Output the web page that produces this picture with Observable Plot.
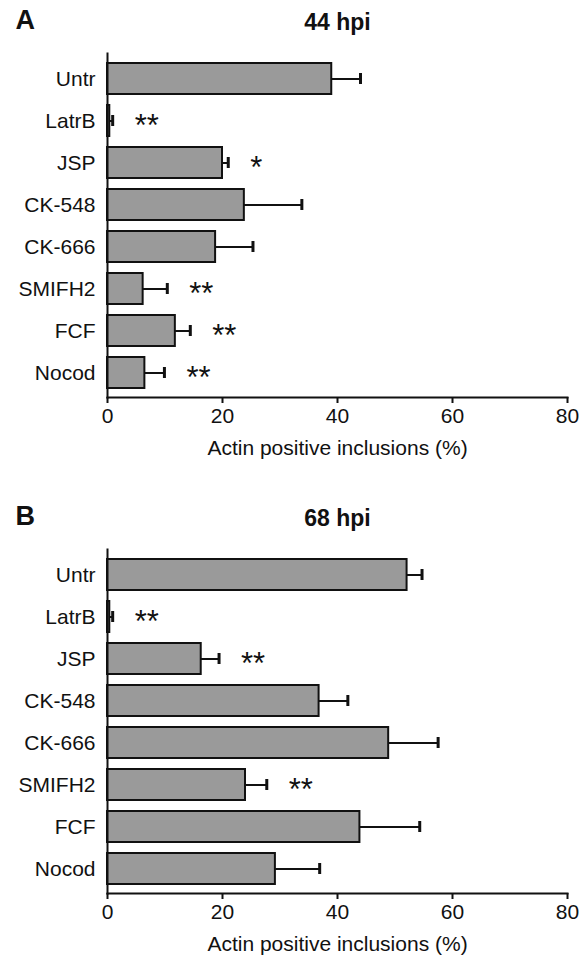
<!DOCTYPE html>
<html>
<head>
<meta charset="utf-8">
<script src="https://cdn.jsdelivr.net/npm/d3@7"></script>
<script src="https://cdn.jsdelivr.net/npm/@observablehq/plot@0.6"></script>
<style>
  html, body { margin: 0; padding: 0; background: #fff; }
  #root { width: 582px; height: 959px; overflow: hidden; }
  #root svg { display: block; font-family: "Liberation Sans", Arial, sans-serif; }
</style>
</head>
<body>
<div id="root"></div>
<script>
// ---- data ----
const groups = ["Untr", "LatrB", "JSP", "CK-548", "CK-666", "SMIFH2", "FCF", "Nocod"];
const mean44 = [39.0, 0.4, 20.0, 23.8, 18.8, 6.2, 11.8, 6.5];
const sd44   = [5.0, 0.5, 1.0, 10.0, 6.5, 4.2, 2.6, 3.4];
const sig44  = ["", "**", "*", "", "", "**", "**", "**"];
const mean68 = [52.1, 0.4, 16.3, 36.8, 48.9, 24.0, 43.9, 29.2];
const sd68   = [2.6, 0.5, 3.1, 5.0, 8.6, 3.7, 10.4, 7.7];
const sig68  = ["", "**", "**", "", "", "**", "", ""];
const xTicks = [0, 20, 40, 60, 80];
const xLabel = "Actin positive inclusions (%)";

function table(means, sds, sigs) {
  return groups.map((g, i) => ({name: g, value: means[i], hi: means[i] + sds[i], sig: sigs[i]}));
}

function panel(letter, title, rows, h) {
  const ink = "#111";
  return Plot.plot({
    width: 582,
    height: h,
    marginLeft: 107,
    marginRight: 15,
    marginTop: 53,
    marginBottom: h - 397,
    style: {fontFamily: "Liberation Sans, Arial, sans-serif", color: ink, background: "#fff"},
    x: {domain: [0, 80], ticks: xTicks},
    y: {domain: groups, paddingInner: 0.27, paddingOuter: 0.15},
    marks: [
      Plot.barX(rows, {x: "value", y: "name", fill: "#9a9a9a", stroke: ink, strokeWidth: 2}),
      Plot.ruleY(rows, {x1: "value", x2: "hi", y: "name", stroke: ink, strokeWidth: 2}),
      Plot.tickX(rows, {x: "hi", y: "name", stroke: ink, strokeWidth: 3, insetTop: 10, insetBottom: 10}),
      Plot.text(rows.filter(d => d.sig), {x: "hi", y: "name", text: "sig", textAnchor: "start", dx: 22, dy: 5, fontSize: 31, fill: ink}),
      Plot.frame({anchor: "left", stroke: ink, strokeWidth: 2}),
      Plot.frame({anchor: "bottom", stroke: ink, strokeWidth: 2}),
      Plot.axisY({tickSize: 0, tickPadding: 12, fontSize: 21, label: null}),
      Plot.axisX({ticks: xTicks, tickSize: 6, tickPadding: 5, fontSize: 21, label: null, strokeWidth: 2}),
      Plot.text([xLabel], {frameAnchor: "bottom", lineAnchor: "middle", dy: 51, fontSize: 21, fill: ink}),
      Plot.text([title], {frameAnchor: "top", lineAnchor: "middle", dy: -31, fontSize: 23, fontWeight: "bold", fill: ink}),
      Plot.text([letter], {frameAnchor: "top-left", textAnchor: "start", lineAnchor: "middle", dx: -92, dy: -33, fontSize: 27, fontWeight: "bold", fill: ink})
    ]
  });
}

const root = document.getElementById("root");
root.append(panel("A", "44 hpi", table(mean44, sd44, sig44), 496));
root.append(panel("B", "68 hpi", table(mean68, sd68, sig68), 463));
</script>
</body>
</html>
